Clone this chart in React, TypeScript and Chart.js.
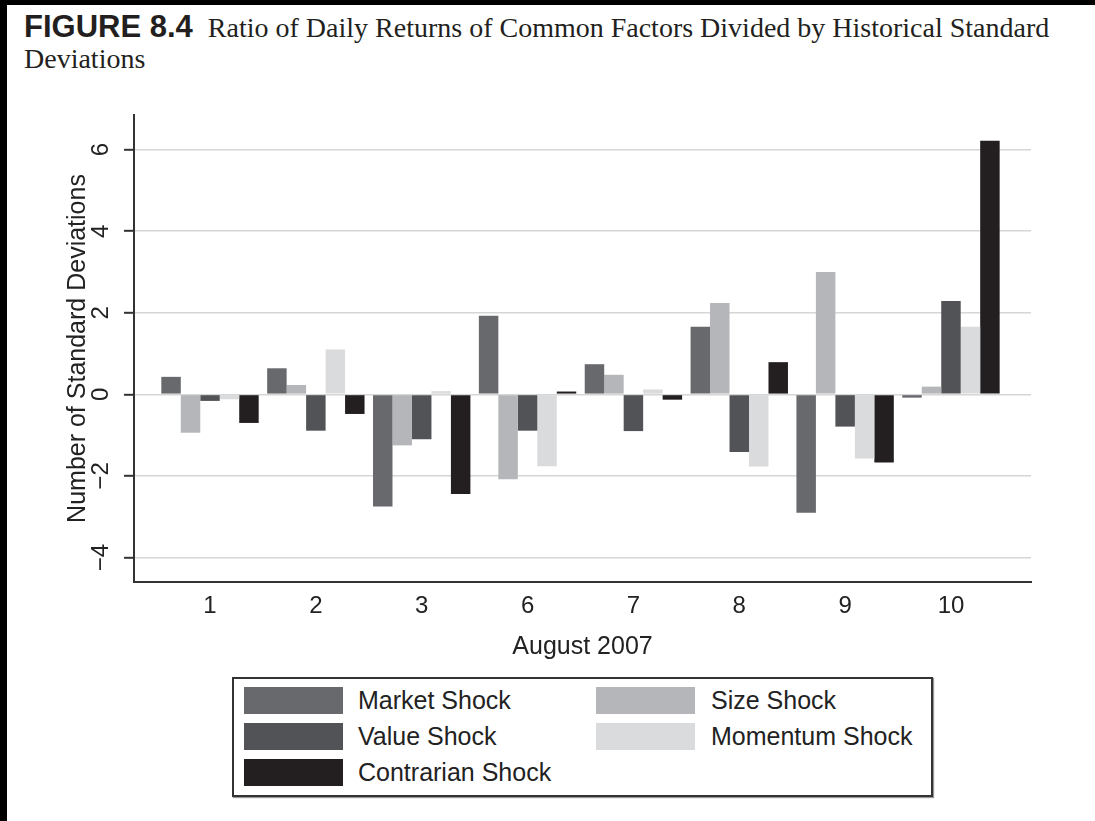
import React, { useEffect, useRef } from "react";
import { Chart, registerables } from "chart.js";

Chart.register(...registerables);

// ---- data ----
const dates = ["1", "2", "3", "6", "7", "8", "9", "10"];
const seriesNames = ["Market Shock", "Size Shock", "Value Shock", "Momentum Shock", "Contrarian Shock"];
const seriesColors = ["#68696c", "#b5b6b9", "#525356", "#dadbdc", "#231f20"];
const marketShock = [0.43, 0.64, -2.75, 1.93, 0.74, 1.66, -2.9, -0.08];
const sizeShock = [-0.94, 0.23, -1.25, -2.08, 0.48, 2.24, 3.0, 0.19];
const valueShock = [-0.16, -0.89, -1.1, -0.89, -0.9, -1.41, -0.79, 2.29];
const momentumShock = [-0.12, 1.1, 0.08, -1.76, 0.12, -1.77, -1.57, 1.66];
const contrarianShock = [-0.7, -0.48, -2.44, 0.07, -0.13, 0.79, -1.67, 6.22];
const yTickValues = [-4, -2, 0, 2, 4, 6];

const SANS = "'Liberation Sans', Arial, Helvetica, sans-serif";
const SERIF = "'Liberation Serif', 'Times New Roman', serif";

export default function App() {
  const ref = useRef<HTMLCanvasElement>(null);

  useEffect(() => {
    const allSeries = [marketShock, sizeShock, valueShock, momentumShock, contrarianShock];
    const chart = new Chart(ref.current as HTMLCanvasElement, {
      type: "bar",
      data: {
        datasets: allSeries.map((s, k) => ({
          label: seriesNames[k],
          data: s.map((v, i) => ({ x: i, y: v })),
          backgroundColor: seriesColors[k],
          borderWidth: 0,
          categoryPercentage: 0.92,
          barPercentage: 1,
        })),
      },
      options: {
        animation: false,
        responsive: true,
        maintainAspectRatio: false,
        layout: { padding: { left: 0, right: 64, top: 15, bottom: 0 } },
        plugins: { legend: { display: false }, tooltip: { enabled: false } },
        scales: {
          x: {
            type: "linear",
            min: -0.718,
            max: 7.756,
            bounds: "data",
            offset: false,
            afterBuildTicks: (s: any) => {
              s.ticks = dates.map((_, i) => ({ value: i }));
            },
            afterFit: (s: any) => {
              s.height = 78;
              s.paddingLeft = 0;
              s.paddingRight = 0;
            },
            grid: { display: false },
            border: { display: true, color: "#333", width: 2 },
            ticks: {
              autoSkip: false,
              maxRotation: 0,
              padding: 2,
              color: "#222",
              font: { family: SANS, size: 24 },
              callback: (v: any) => dates[v] ?? "",
            },
            title: {
              display: true,
              text: "August 2007",
              color: "#222",
              font: { family: SANS, size: 25 },
              padding: { top: 0, bottom: -2 },
            },
          },
          y: {
            type: "linear",
            min: -4.6,
            max: 6.85,
            bounds: "data",
            afterBuildTicks: (s: any) => {
              s.ticks = yTickValues.map((v) => ({ value: v }));
            },
            afterFit: (s: any) => {
              s.width = 134;
              s.paddingTop = 0;
              s.paddingBottom = 0;
            },
            grid: { color: "#d6d6d6", lineWidth: 1.6, tickColor: "#333", tickLength: 10, tickWidth: 2 },
            border: { display: true, color: "#333", width: 2 },
            ticks: {
              minRotation: 90,
              maxRotation: 90,
              crossAlign: "center",
              padding: 9,
              color: "#222",
              font: { family: SANS, size: 24 },
              callback: (v: any) => (v < 0 ? "\u2212" + Math.abs(v) : String(v)),
            },
            title: {
              display: true,
              text: "Number of Standard Deviations",
              color: "#222",
              font: { family: SANS, size: 25 },
              padding: { top: 63, bottom: 0 },
            },
          },
        },
      } as any,
    });
    return () => chart.destroy();
  }, []);

  return (
    <div style={{ position: "fixed", left: 0, top: 0, width: 1095, height: 821, background: "#fff", overflow: "hidden" }}>
      <div style={{ position: "absolute", left: 0, top: 0, width: 7, height: 821, background: "#000" }} />
      <div style={{ position: "absolute", left: 0, top: 0, width: 1095, height: 5, background: "#000" }} />
      <div
        style={{
          position: "absolute",
          left: 24,
          top: 11,
          whiteSpace: "nowrap",
          fontFamily: SERIF,
          fontSize: 28,
          lineHeight: "31px",
          color: "#231f20",
        }}
      >
        <span style={{ fontFamily: SANS, fontWeight: "bold", fontSize: 31, marginRight: 15 }}>FIGURE 8.4</span>
        Ratio of Daily Returns of Common Factors Divided by Historical Standard
        <br />
        Deviations
      </div>
      <div style={{ position: "absolute", left: 0, top: 100, width: 1095, height: 560 }}>
        <canvas ref={ref} />
      </div>
      <div
        style={{
          position: "absolute",
          left: 232,
          top: 677,
          width: 697,
          height: 116,
          border: "2px solid #333",
          boxShadow: "1px 1px 1px #999",
          fontFamily: SANS,
          fontSize: 25,
          color: "#222",
        }}
      >
        {seriesNames.map((name, k) => {
          const col = k % 2;
          const row = Math.floor(k / 2);
          const top = 8 + row * 36;
          return (
            <React.Fragment key={name}>
              <div
                style={{
                  position: "absolute",
                  left: col === 0 ? 10 : 362,
                  top,
                  width: 99,
                  height: 27,
                  background: seriesColors[k],
                }}
              />
              <div
                style={{
                  position: "absolute",
                  left: col === 0 ? 124 : 477,
                  top,
                  height: 27,
                  lineHeight: "27px",
                  whiteSpace: "nowrap",
                }}
              >
                {name}
              </div>
            </React.Fragment>
          );
        })}
      </div>
    </div>
  );
}
